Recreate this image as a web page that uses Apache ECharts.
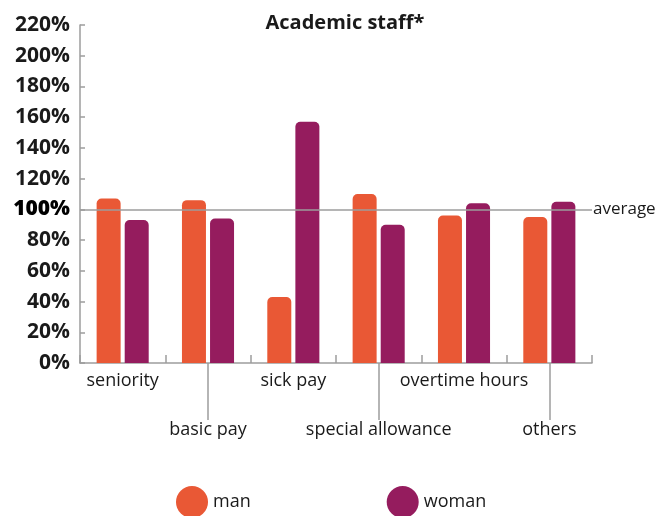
<!DOCTYPE html>
<html>
<head>
<meta charset="utf-8">
<title>Academic staff</title>
<script src="https://cdn.jsdelivr.net/npm/echarts@6/dist/echarts.min.js"></script>
<style>
  html, body { margin: 0; padding: 0; background: #fff; }
  #chart { width: 655px; height: 516px; }
</style>
</head>
<body>
<div id="chart"></div>
<script>
// 数据
var categories = ['seniority', 'basic pay', 'sick pay', 'special allowance', 'overtime hours', 'others'];
var manValues = [107, 106, 43, 110, 96, 95];
var womanValues = [93, 94, 157, 90, 104, 105];
var seriesNames = ['man', 'woman'];
var averageValue = 100;

(function() {
  var font = 'Open Sans';
  var textColor = '#1a1a1a';
  var axisGray = '#9d9d9d';
  var chart = echarts.init(document.getElementById('chart'));

  // 上下交错的类目标签
  function isUpper(index) {
    return index % 2 === 0;
  }

  chart.setOption({
    animation: false,
    title: {
      text: 'Academic staff*',
      left: 340,
      textAlign: 'center',
      top: 8,
      textStyle: { fontFamily: font, fontSize: 20, fontWeight: 'bold', color: textColor }
    },
    legend: {
      data: seriesNames,
      left: 171,
      top: 481,
      icon: 'circle',
      itemWidth: 32,
      itemHeight: 32,
      itemGap: 136,
      textStyle: { fontFamily: font, fontSize: 18, color: textColor }
    },
    grid: { left: 80, right: 63, top: 25, bottom: 153 },
    xAxis: [{
      type: 'category',
      data: categories,
      axisLine: { lineStyle: { color: axisGray, width: 1.5 } },
      axisTick: { show: true, interval: 0, inside: true, length: 8, lineStyle: { color: axisGray, width: 1.5 } },
      axisLabel: {
        interval: function(index) { return isUpper(index); },
        margin: 9,
        fontFamily: font, fontSize: 18, color: textColor
      }
    }, {
      // 下排标签和引线
      type: 'category',
      data: categories,
      position: 'bottom',
      axisLine: { show: true, lineStyle: { color: axisGray, opacity: 0 } },
      axisTick: {
        show: true,
        alignWithLabel: true,
        interval: function(index) { return !isUpper(index); },
        length: 57,
        lineStyle: { color: axisGray, width: 1.5 }
      },
      axisLabel: {
        interval: function(index) { return !isUpper(index); },
        margin: 58,
        fontFamily: font, fontSize: 18, color: textColor
      }
    }],
    yAxis: {
      type: 'value',
      min: 0,
      max: 220,
      interval: 20,
      splitLine: { show: false },
      axisLine: { show: true, lineStyle: { color: axisGray, width: 1.5 } },
      axisTick: { show: true, inside: true, length: 5, lineStyle: { color: axisGray, width: 1.5 } },
      axisLabel: {
        margin: 10,
        formatter: function(v) {
          return v === averageValue ? '{avg|' + v + '%}' : v + '%';
        },
        fontFamily: font, fontSize: 21, fontWeight: 'bold', color: textColor,
        rich: {
          avg: { fontFamily: font, fontSize: 21, fontWeight: 900, color: '#000' }
        }
      }
    },
    series: [{
      name: seriesNames[0],
      type: 'bar',
      data: manValues,
      barWidth: 24,
      barGap: '17%',
      itemStyle: { color: '#e95835', borderRadius: [5, 5, 0, 0] },
      markLine: {
        silent: true,
        symbol: 'none',
        lineStyle: { color: axisGray, width: 1.5, type: 'solid' },
        label: {
          position: 'end',
          formatter: 'average',
          distance: 1,
          fontFamily: font, fontSize: 17, color: textColor
        },
        data: [{ yAxis: averageValue }]
      }
    }, {
      name: seriesNames[1],
      type: 'bar',
      data: womanValues,
      barWidth: 24,
      itemStyle: { color: '#951c5e', borderRadius: [5, 5, 0, 0] }
    }]
  });
})();
</script>
</body>
</html>
